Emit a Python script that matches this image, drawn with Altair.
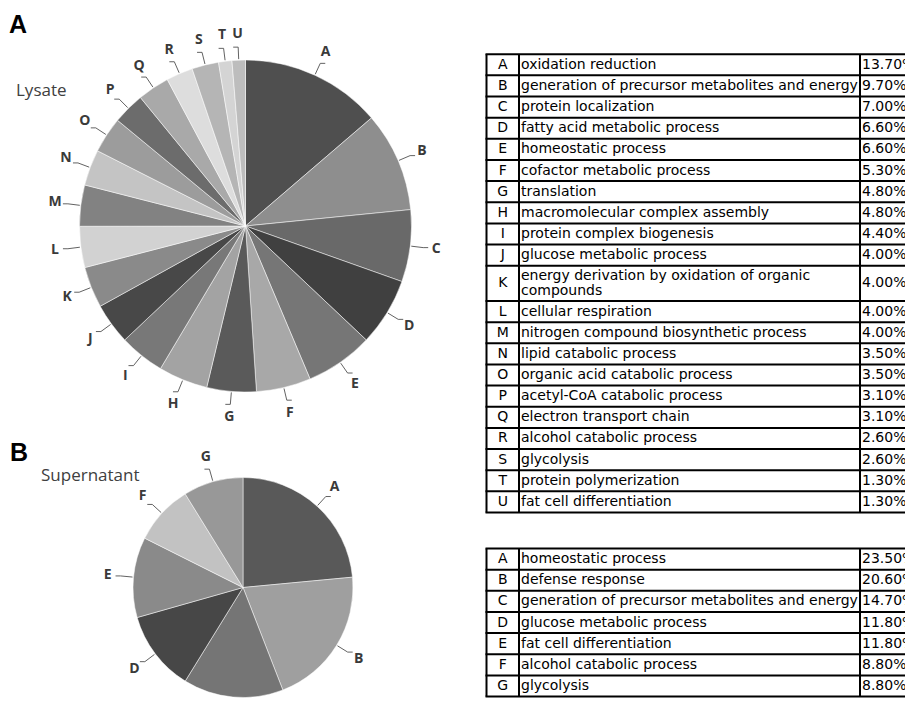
import altair as alt
import pandas as pd

# ---------------- data ----------------
lys_letters = list("ABCDEFGHIJKLMNOPQRSTU")
lys_terms = [
    "oxidation reduction",
    "generation of precursor metabolites and energy",
    "protein localization",
    "fatty acid metabolic process",
    "homeostatic process",
    "cofactor metabolic process",
    "translation",
    "macromolecular complex assembly",
    "protein complex biogenesis",
    "glucose metabolic process",
    "energy derivation by oxidation of organic\ncompounds",
    "cellular respiration",
    "nitrogen compound biosynthetic process",
    "lipid catabolic process",
    "organic acid catabolic process",
    "acetyl-CoA catabolic process",
    "electron transport chain",
    "alcohol catabolic process",
    "glycolysis",
    "protein polymerization",
    "fat cell differentiation",
]
lys_pct = [13.7, 9.7, 7.0, 6.6, 6.6, 5.3, 4.8, 4.8, 4.4, 4.0, 4.0,
           4.0, 4.0, 3.5, 3.5, 3.1, 3.1, 2.6, 2.6, 1.3, 1.3]

sup_letters = list("ABCDEFG")
sup_terms = [
    "homeostatic process",
    "defense response",
    "generation of precursor metabolites and energy",
    "glucose metabolic process",
    "fat cell differentiation",
    "alcohol catabolic process",
    "glycolysis",
]
sup_pct = [23.5, 20.6, 14.7, 11.8, 11.8, 8.8, 8.8]

# ---------------- styles ----------------
lys_grays = ["#4f4f4f", "#8e8e8e", "#696969", "#404040", "#767676", "#a8a8a8",
             "#5a5a5a", "#a3a3a3", "#787878", "#484848", "#8a8a8a", "#d2d2d2",
             "#828282", "#c4c4c4", "#9c9c9c", "#6c6c6c", "#a9a9a9", "#dddddd",
             "#b5b5b5", "#d4d4d4", "#bdbdbd"]
sup_grays = ["#595959", "#9f9f9f", "#757575", "#474747", "#8a8a8a", "#c2c2c2", "#989898"]

OFF = 8
W, H = 897, 690
xs = alt.Scale(domain=[OFF, OFF + W], nice=False, zero=False)
ys = alt.Scale(domain=[OFF, OFF + H], nice=False, zero=False, reverse=True)

TABLE_FONT = "DejaVu Sans"
LABEL_FONT = "Open Sans"
LINE_H = 15


def X(f):
    return alt.X(f, type="quantitative", scale=xs, axis=None)


def Y(f):
    return alt.Y(f, type="quantitative", scale=ys, axis=None)


def pie_layers(letters, pcts, palette, cx, cy, R, rlab):
    df = pd.DataFrame({"letter": letters, "pct": pcts, "order": range(len(letters))})
    base = alt.Chart(df)
    arcs = base.mark_arc(outerRadius=R, stroke="white", strokeWidth=0.5).encode(
        theta=alt.Theta("pct:Q", stack=True),
        order=alt.Order("order:Q"),
        color=alt.Color("letter:N", scale=alt.Scale(domain=letters, range=palette), legend=None),
        x=alt.value(cx - OFF),
        y=alt.value(cy - OFF),
    )
    geo = (
        base.transform_window(cum="sum(pct)", sort=[alt.SortField("order")], frame=[None, 0])
        .transform_joinaggregate(total="sum(pct)")
        .transform_calculate(ang="2*PI*(datum.cum - datum.pct/2)/datum.total")
        .transform_calculate(s="sin(datum.ang)", c="cos(datum.ang)")
        .transform_calculate(
            sg="datum.s >= 0 ? 1 : -1",
            x0=f"{cx} + {R + 1}*datum.s",
            y0=f"{cy} - {R + 1}*datum.c",
            x1=f"{cx} + {R + 13}*datum.s",
            y1=f"{cy} - {R + 13}*datum.c",
            xl=f"{cx} + {rlab}*datum.s",
            yl=f"{cy} - {rlab}*datum.c",
        )
        .transform_calculate(x2="datum.x1 + 5*datum.sg")
    )
    lead1 = geo.mark_rule(color="#505050", strokeWidth=0.9).encode(
        x=X("x0"), y=Y("y0"), x2=alt.X2("x1"), y2=alt.Y2("y1"))
    lead2 = geo.mark_rule(color="#505050", strokeWidth=0.9).encode(
        x=X("x1"), y=Y("y1"), x2=alt.X2("x2"), y2=alt.Y2("y1"))
    labs = geo.mark_text(font=LABEL_FONT, fontSize=14, fontWeight="bold",
                         color="#3a3a3a", align="center", baseline="middle").encode(
        x=X("xl"), y=Y("yl"), text="letter:N")
    return [arcs, lead1, lead2, labs]


def table_layers(letters, terms, pcts, top, row_h, wrap_h, xl, xd1, xd2):
    rows = []
    y = top
    for L, t, p in zip(letters, terms, pcts):
        n_lines = t.count("\n") + 1
        h = wrap_h if n_lines > 1 else row_h
        rows.append(dict(letter=L, term=t, pct=f"{p:.2f}%", yc=y + h / 2,
                         yt=y + h / 2 - LINE_H * (n_lines - 1) / 2, ytop=y))
        y += h
    bottom = y
    df = pd.DataFrame(rows)
    hl = pd.DataFrame({"y": list(df["ytop"]) + [bottom]})
    vl = pd.DataFrame({"x": [xl, xd1, xd2], "y0": top, "y1": bottom})
    hrules = alt.Chart(hl).mark_rule(color="black", strokeWidth=2).encode(
        y=Y("y"), x=alt.value(xl - OFF - 1), x2=alt.value(W))
    vrules = alt.Chart(vl).mark_rule(color="black", strokeWidth=2).encode(
        x=X("x"), y=Y("y0"), y2=alt.Y2("y1"))
    t_let = alt.Chart(df).mark_text(font=TABLE_FONT, fontSize=14, align="center",
                                    baseline="middle", color="black").encode(
        x=alt.value((xl + xd1) / 2 - OFF), y=Y("yc"), text="letter:N")
    t_term = alt.Chart(df).mark_text(font=TABLE_FONT, fontSize=14, align="left",
                                     baseline="middle", color="black",
                                     lineBreak="\n", lineHeight=LINE_H).encode(
        x=alt.value(xd1 + 2 - OFF), y=Y("yt"), text="term:N")
    t_pct = alt.Chart(df).mark_text(font=TABLE_FONT, fontSize=14, align="left",
                                    baseline="middle", color="black").encode(
        x=alt.value(xd2 + 2 - OFF), y=Y("yc"), text="pct:N")
    return [hrules, vrules, t_let, t_term, t_pct]


def note(txt, x, y, **kw):
    return alt.Chart(alt.Data(values=[{}])).mark_text(align="left", baseline="alphabetic", **kw).encode(
        x=alt.value(x - OFF), y=alt.value(y - OFF), text=alt.value(txt))


layers = []
layers += pie_layers(lys_letters, lys_pct, lys_grays, 245.5, 226, 166, 192)
layers += pie_layers(sup_letters, sup_pct, sup_grays, 243, 587.5, 110, 136)
layers += table_layers(lys_letters, lys_terms, lys_pct, 54.2, 21.15, 35.3, 486.5, 519, 860)
layers += table_layers(sup_letters, sup_terms, sup_pct, 548.5, 21.15, 35.3, 486.5, 519, 860)
layers += [
    note("A", 9, 33, font="Liberation Sans", fontSize=25, fontWeight="bold", color="black"),
    note("B", 10, 461, font="Liberation Sans", fontSize=25, fontWeight="bold", color="black"),
    note("Lysate", 16, 96, font=LABEL_FONT, fontSize=17, color="#404040"),
    note("Supernatant", 41, 481, font=LABEL_FONT, fontSize=17, color="#404040"),
]

chart = (
    alt.layer(*layers)
    .resolve_scale(theta="independent", color="independent")
    .properties(width=W, height=H, padding=0, autosize="none")
    .configure_view(stroke=None)
)

chart.save("out.html", embed_options={"renderer": "svg", "actions": False})
